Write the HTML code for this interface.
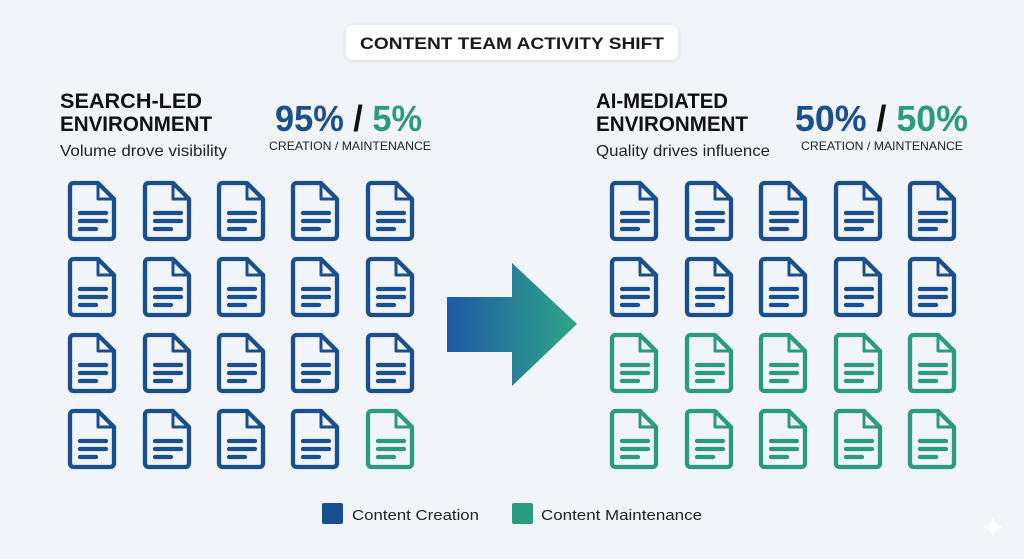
<!DOCTYPE html>
<html><head><meta charset="utf-8"><style>
html,body{margin:0;padding:0;background:#f1f4f8;}
svg{display:block;font-family:"Liberation Sans",sans-serif;}
</style></head><body>
<svg width="1024" height="559" viewBox="0 0 1024 559" xmlns="http://www.w3.org/2000/svg">
<defs>
<linearGradient id="ag" x1="0" x2="1" y1="0" y2="0"><stop offset="0" stop-color="#1f5aa6"/><stop offset="1" stop-color="#2fa585"/></linearGradient>
<filter id="sh" x="-10%" y="-30%" width="120%" height="160%"><feDropShadow dx="0" dy="1" stdDeviation="2" flood-opacity="0.12"/></filter>
<g id="doc" fill="none" stroke-width="4.3" stroke-linejoin="round" stroke-linecap="round">
<path d="M6,2 H30 L46,18 V54 Q46,58 42,58 H6 Q2,58 2,54 V6 Q2,2 6,2 Z"/>
<path d="M30,3 V18 H45" stroke-width="3"/>
<path d="M12,32 H38 M12,40 H38 M12,48 H28"/>
</g>
</defs>
<rect width="1024" height="559" fill="#f1f4f8"/>
<rect x="346" y="25" width="332" height="35" rx="7" fill="#fff" filter="url(#sh)"/>
<text x="512" y="49" text-anchor="middle" font-size="17" font-weight="bold" fill="#1a1a1a" textLength="304" lengthAdjust="spacingAndGlyphs">CONTENT TEAM ACTIVITY SHIFT</text>

<g font-weight="bold" fill="#111" font-size="21">
<text x="60" y="108" textLength="142" lengthAdjust="spacingAndGlyphs">SEARCH-LED</text>
<text x="60" y="131" textLength="152" lengthAdjust="spacingAndGlyphs">ENVIRONMENT</text>
<text x="596" y="108" textLength="132" lengthAdjust="spacingAndGlyphs">AI-MEDIATED</text>
<text x="596" y="131" textLength="152" lengthAdjust="spacingAndGlyphs">ENVIRONMENT</text>
</g>
<g fill="#222" font-size="16">
<text x="60" y="156" textLength="167" lengthAdjust="spacingAndGlyphs">Volume drove visibility</text>
<text x="596" y="156" textLength="174" lengthAdjust="spacingAndGlyphs">Quality drives influence</text>
</g>
<g font-weight="bold" font-size="36">
<text x="275" y="131" textLength="147" lengthAdjust="spacingAndGlyphs"><tspan fill="#1a4f8f">95%</tspan><tspan fill="#111"> / </tspan><tspan fill="#2a9a80">5%</tspan></text>
<text x="795" y="131" textLength="173" lengthAdjust="spacingAndGlyphs"><tspan fill="#1a4f8f">50%</tspan><tspan fill="#111"> / </tspan><tspan fill="#2a9a80">50%</tspan></text>
</g>
<g fill="#222" font-size="12">
<text x="269" y="150" textLength="162" lengthAdjust="spacingAndGlyphs">CREATION / MAINTENANCE</text>
<text x="801" y="150" textLength="162" lengthAdjust="spacingAndGlyphs">CREATION / MAINTENANCE</text>
</g>

<g stroke="#1a4f8f">
<use href="#doc" x="68" y="181"/><use href="#doc" x="143" y="181"/><use href="#doc" x="217" y="181"/><use href="#doc" x="291" y="181"/><use href="#doc" x="366" y="181"/>
<use href="#doc" x="68" y="257"/><use href="#doc" x="143" y="257"/><use href="#doc" x="217" y="257"/><use href="#doc" x="291" y="257"/><use href="#doc" x="366" y="257"/>
<use href="#doc" x="68" y="333"/><use href="#doc" x="143" y="333"/><use href="#doc" x="217" y="333"/><use href="#doc" x="291" y="333"/><use href="#doc" x="366" y="333"/>
<use href="#doc" x="68" y="409"/><use href="#doc" x="143" y="409"/><use href="#doc" x="217" y="409"/><use href="#doc" x="291" y="409"/>
<use href="#doc" x="610" y="181"/><use href="#doc" x="685" y="181"/><use href="#doc" x="759" y="181"/><use href="#doc" x="834" y="181"/><use href="#doc" x="908" y="181"/>
<use href="#doc" x="610" y="257"/><use href="#doc" x="685" y="257"/><use href="#doc" x="759" y="257"/><use href="#doc" x="834" y="257"/><use href="#doc" x="908" y="257"/>
</g>
<g stroke="#2a9a80">
<use href="#doc" x="366" y="409"/>
<use href="#doc" x="610" y="333"/><use href="#doc" x="685" y="333"/><use href="#doc" x="759" y="333"/><use href="#doc" x="834" y="333"/><use href="#doc" x="908" y="333"/>
<use href="#doc" x="610" y="409"/><use href="#doc" x="685" y="409"/><use href="#doc" x="759" y="409"/><use href="#doc" x="834" y="409"/><use href="#doc" x="908" y="409"/>
</g>

<path d="M447,297 H512 V263 L577,324 L512,386 V352 H447 Z" fill="url(#ag)"/>

<rect x="322" y="503" width="21" height="21" rx="2" fill="#1a4f8f"/>
<text x="352" y="520" font-size="15" fill="#222" textLength="127" lengthAdjust="spacingAndGlyphs">Content Creation</text>
<rect x="512" y="503" width="21" height="21" rx="2" fill="#2a9a80"/>
<text x="541" y="520" font-size="15" fill="#222" textLength="161" lengthAdjust="spacingAndGlyphs">Content Maintenance</text>
<path d="M993,517 Q995,525 1003,527 Q995,529 993,537 Q991,529 983,527 Q991,525 993,517 Z" fill="#fff" opacity="0.8"/>
</svg>
</body></html>
